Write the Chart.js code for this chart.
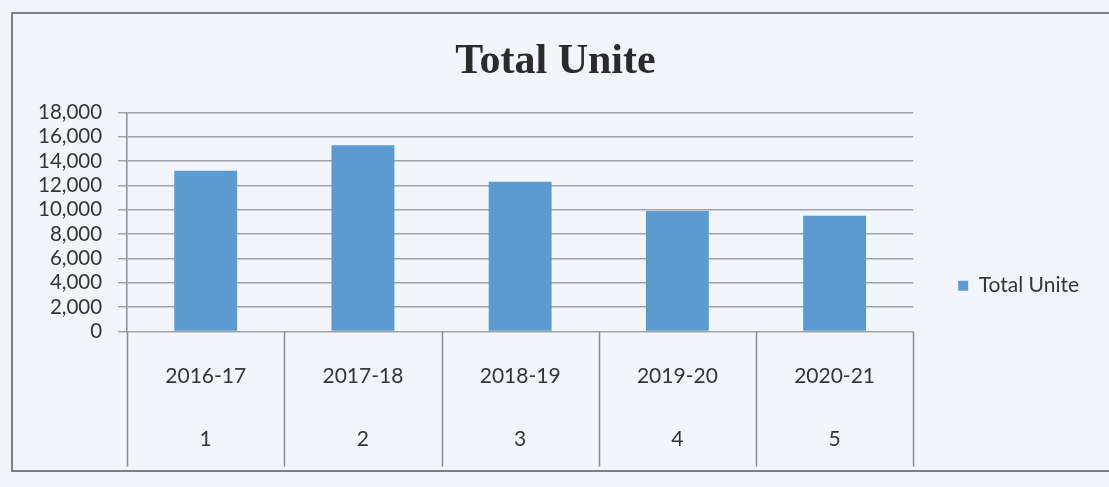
<!DOCTYPE html>
<html>
<head>
<meta charset="utf-8">
<script src="https://cdn.jsdelivr.net/npm/chart.js@4"></script>
<style>
  html, body { margin: 0; padding: 0; background: #f2f5f9; }
  #wrap { width: 1109px; height: 487px; }
</style>
</head>
<body>
<div id="wrap"><canvas id="chart"></canvas></div>
<script>
/* ── Données ────────────────────────────────────────────── */
const years = ['2016-17', '2017-18', '2018-19', '2019-20', '2020-21'];
const serials = ['1', '2', '3', '4', '5'];
const totalUnits = [13200, 15300, 12300, 9900, 9500];
const seriesName = 'Total Unite';

const GRID = '#a0a3aa';
const LINE = '#8a8d94';
const TEXT = '#363636';

// cadre de la page photographiée
const pageFrame = {
    id: 'pageFrame',
    beforeDraw(chart) {
        const { ctx, width } = chart;
        ctx.save();
        ctx.fillStyle = '#f2f5f9';
        ctx.fillRect(0, 0, width, chart.height);
        ctx.strokeStyle = '#7d8087';
        ctx.lineWidth = 2;
        ctx.beginPath();
        ctx.moveTo(width + 5, 13);
        ctx.lineTo(12, 13);
        ctx.lineTo(12, 471);
        ctx.lineTo(width + 5, 471);
        ctx.stroke();
        ctx.restore();
    },
};

// séparateurs verticaux du tableau des catégories
const categoryTable = {
    id: 'categoryTable',
    afterDraw(chart) {
        const { ctx, chartArea } = chart;
        const x = chart.scales.x;
        const half = (x.getPixelForValue(1) - x.getPixelForValue(0)) / 2;
        const bottom = chartArea.bottom + 135;
        ctx.save();
        ctx.strokeStyle = LINE;
        ctx.lineWidth = 1.5;
        ctx.beginPath();
        for (let i = 0; i <= years.length; i++) {
            const px = Math.round(x.getPixelForValue(i) - half) + 0.5;
            ctx.moveTo(px, chartArea.bottom);
            ctx.lineTo(px, bottom);
        }
        ctx.stroke();
        ctx.restore();
    },
};

new Chart(document.getElementById('chart'), {
    type: 'bar',
    data: {
        labels: years.map((y, i) => [y, '', serials[i]]),
        datasets: [{
            label: seriesName,
            data: totalUnits,
            backgroundColor: '#5b9bd0',
            categoryPercentage: 1,
            barPercentage: 0.4,
        }],
    },
    options: {
        responsive: true,
        maintainAspectRatio: false,
        animation: false,
        layout: { padding: { left: 22, right: 20, top: 0, bottom: 3 } },
        scales: {
            x: {
                grid: { display: false, drawTicks: false },
                border: { display: false },
                ticks: {
                    padding: 29,
                    color: TEXT,
                    font: { family: 'Lato', size: 21, lineHeight: 1.5 },
                    maxRotation: 0,
                    autoSkip: false,
                },
            },
            y: {
                min: 0,
                max: 18000,
                ticks: {
                    stepSize: 2000,
                    padding: 16,
                    autoSkip: false,
                    color: TEXT,
                    font: { family: 'Lato', size: 20.5 },
                    callback: v => v.toLocaleString('en-US'),
                },
                grid: { color: GRID, lineWidth: 1.5, tickLength: 9 },
                border: { color: LINE, width: 1.5 },
            },
        },
        plugins: {
            title: {
                display: true,
                text: 'Total Unite',
                color: '#2b2b2b',
                font: { family: 'Liberation Serif', size: 42, weight: 'bold' },
                padding: { top: 37, bottom: 25 },
            },
            legend: {
                position: 'right',
                title: { display: true, text: '', padding: { top: 0, bottom: 73 } },
                labels: {
                    boxWidth: 10,
                    boxHeight: 10,
                    padding: 45,
                    color: TEXT,
                    font: { family: 'Lato', size: 21 },
                },
            },
            tooltip: { enabled: false },
        },
    },
    plugins: [pageFrame, categoryTable],
});
</script>
</body>
</html>
